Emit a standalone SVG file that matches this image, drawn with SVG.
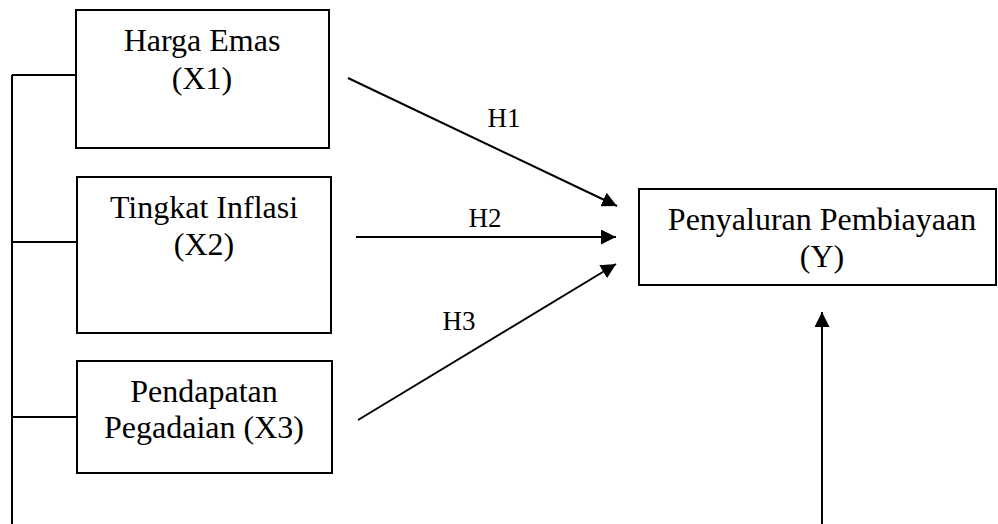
<svg xmlns="http://www.w3.org/2000/svg" width="998" height="524" viewBox="0 0 998 524">
<style>
.box{fill:#fff;stroke:#000;stroke-width:2}
.t{font-family:'Liberation Serif','Times New Roman',serif;font-size:32px;fill:#000;text-anchor:middle}
.h{font-family:'Liberation Serif','Times New Roman',serif;font-size:27px;fill:#000;text-anchor:middle}
.ln{stroke:#000;stroke-width:2;fill:none}
</style>
<defs>
<marker id="ah" viewBox="0 0 10 10" refX="10" refY="5" markerWidth="15" markerHeight="15" markerUnits="userSpaceOnUse" orient="auto">
<path d="M0,0 L10,5 L0,10 Z" fill="#000"/>
</marker>
</defs>
<rect width="998" height="524" fill="#fff"/>
<g id="connectors">
<line class="ln" x1="12" y1="75" x2="12" y2="524"/>
<line class="ln" x1="12" y1="75" x2="76" y2="75"/>
<line class="ln" x1="12" y1="242" x2="77" y2="242"/>
<line class="ln" x1="12" y1="417" x2="77" y2="417"/>
<line class="ln" x1="348" y1="78" x2="617" y2="206" marker-end="url(#ah)"/>
<line class="ln" x1="356" y1="237" x2="616" y2="237" marker-end="url(#ah)"/>
<line class="ln" x1="358" y1="420" x2="616" y2="264" marker-end="url(#ah)"/>
<line class="ln" x1="822" y1="524" x2="822" y2="312" marker-end="url(#ah)"/>
<text class="h" x="504" y="127">H1</text>
<text class="h" x="485" y="227">H2</text>
<text class="h" x="459" y="330">H3</text>
</g>
<g id="x1">
<rect class="box" x="76" y="10" width="253" height="138"/>
<text class="t" x="202" y="51">Harga Emas</text>
<text class="t" x="202" y="89">(X1)</text>
</g>
<g id="x2">
<rect class="box" x="77" y="177" width="254" height="156"/>
<text class="t" x="204" y="218">Tingkat Inflasi</text>
<text class="t" x="204" y="255">(X2)</text>
</g>
<g id="x3">
<rect class="box" x="77" y="361" width="255" height="112"/>
<text class="t" x="204" y="402">Pendapatan</text>
<text class="t" x="204" y="438">Pegadaian (X3)</text>
</g>
<g id="y">
<rect class="box" x="639" y="189" width="357" height="96"/>
<text class="t" x="822" y="230">Penyaluran Pembiayaan</text>
<text class="t" x="822" y="267">(Y)</text>
</g>
</svg>
